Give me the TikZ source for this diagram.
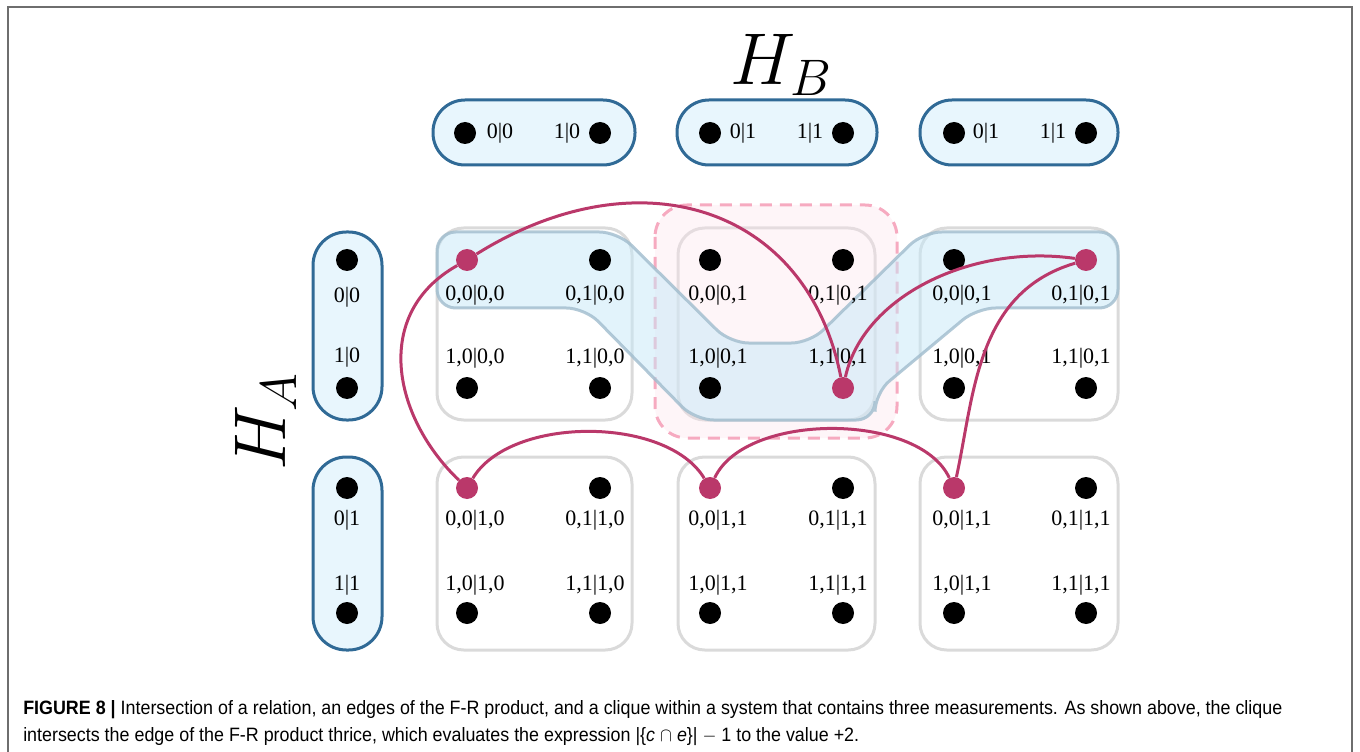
\RequirePackage{fix-cm}
\documentclass[tikz,border=0pt]{standalone}
\usepackage{fontspec}
\setmainfont{Liberation Serif}
\newfontfamily\capfont{Liberation Sans}

\begin{document}
\begin{tikzpicture}[x=0.75pt,y=0.75pt,yscale=-1,xscale=1,
  dot/.style={circle,fill=black,inner sep=0pt,minimum size=16.5pt},
  hdot/.style={circle,fill={rgb,255:red,186;green,56;blue,106},inner sep=0pt,minimum size=16.5pt},
  lbl/.style={font=\fontsize{16.5}{18}\selectfont,inner sep=0pt},
  blk/.style={draw={rgb,255:red,218;green,218;blue,218},line width=2.25pt,rounded corners=20pt},
  oval/.style={draw={rgb,255:red,48;green,106;blue,150},fill={rgb,255:red,232;green,246;blue,253},line width=2.25pt},
  hedge/.style={draw={rgb,255:red,186;green,56;blue,106},line width=2.25pt},
  band/.style={fill={rgb,255:red,198;green,232;blue,248},fill opacity=0.5,draw={rgb,255:red,160;green,188;blue,205},draw opacity=0.8,line width=2.25pt,rounded corners=14pt},
  clique/.style={draw={rgb,255:red,246;green,170;blue,192},fill={rgb,255:red,252;green,226;blue,235},fill opacity=0.35,dash pattern=on 9pt off 6pt,line width=2.25pt,rounded corners=24pt},
  capt/.style={anchor=base west,inner sep=0pt,font=\capfont\fontsize{14.5}{17}\selectfont}]
\useasboundingbox (0,0) rectangle (1360,752);

%Frame
\draw [color={rgb,255:red,110;green,110;blue,110},line width=1.5pt] (8,752) -- (8,7) -- (1352,7) -- (1352,752);

%Gray blocks
\draw [blk] (437,228) rectangle (632,420);
\draw [blk] (678,228) rectangle (875,420);
\draw [blk] (920,228) rectangle (1118,420);
\draw [blk] (437,457) rectangle (632,650);
\draw [blk] (678,457) rectangle (875,650);
\draw [blk] (920,457) rectangle (1118,650);

%Clique
\draw [clique] (655,205) rectangle (897,438);

%Edge of the F-R product
\draw [band] (437,232) -- (618,232) -- (730,343) -- (810,343) -- (923,232) -- (1118,232) -- (1118,308) -- (977,308) -- (875,393) -- (875,420) -- (695,420) -- (585,308) -- (437,308) -- cycle;

%H_B ovals
\draw [oval,rounded corners=24pt] (433,100) rectangle (635,165);
\draw [oval,rounded corners=24pt] (677,100) rectangle (877,165);
\draw [oval,rounded corners=24pt] (920,100) rectangle (1118,165);
%H_A ovals
\draw [oval,rounded corners=25pt] (313,232) rectangle (382,420);
\draw [oval,rounded corners=25pt] (313,457) rectangle (382,650);

%Titles
\node [anchor=base,inner sep=0pt,font=\fontsize{55}{60}\selectfont] (hb) at (781,85) {$H_B$};
\node [anchor=base,inner sep=0pt,rotate=90,font=\fontsize{55}{60}\selectfont] (ha) at (285,422) {$H_A$};

%H_B dots and labels
\node [dot] (b1) at (465,133) {};
\node [dot] (b2) at (600,133) {};
\node [dot] (b3) at (710,133) {};
\node [dot] (b4) at (843,133) {};
\node [dot] (b5) at (954,133) {};
\node [dot] (b6) at (1086,133) {};
\node [lbl] (bl1) at (500,133) {0|0};
\node [lbl] (bl2) at (567,133) {1|0};
\node [lbl] (bl3) at (743,133) {0|1};
\node [lbl] (bl4) at (810,133) {1|1};
\node [lbl] (bl5) at (986,133) {0|1};
\node [lbl] (bl6) at (1053,133) {1|1};

%H_A dots and labels
\node [dot] (a1) at (347,260) {};
\node [dot] (a2) at (347,388) {};
\node [dot] (a3) at (347,488) {};
\node [dot] (a4) at (347,613) {};
\node [lbl] (al1) at (347,297) {0|0};
\node [lbl] (al2) at (347,357) {1|0};
\node [lbl] (al3) at (347,520) {0|1};
\node [lbl] (al4) at (347,585) {1|1};

%Product dots, row 1
\node [hdot] (d11) at (467,260) {};
\node [dot] (d12) at (600,260) {};
\node [dot] (d13) at (710,260) {};
\node [dot] (d14) at (843,260) {};
\node [dot] (d15) at (954,260) {};
\node [hdot] (d16) at (1086,260) {};
%row 2
\node [dot] (d21) at (467,388) {};
\node [dot] (d22) at (600,388) {};
\node [dot] (d23) at (710,388) {};
\node [hdot] (d24) at (843,388) {};
\node [dot] (d25) at (954,388) {};
\node [dot] (d26) at (1086,388) {};
%row 3
\node [hdot] (d31) at (467,488) {};
\node [dot] (d32) at (600,488) {};
\node [hdot] (d33) at (710,488) {};
\node [dot] (d34) at (843,488) {};
\node [hdot] (d35) at (954,488) {};
\node [dot] (d36) at (1086,488) {};
%row 4
\node [dot] (d41) at (467,613) {};
\node [dot] (d42) at (600,613) {};
\node [dot] (d43) at (710,613) {};
\node [dot] (d44) at (843,613) {};
\node [dot] (d45) at (954,613) {};
\node [dot] (d46) at (1086,613) {};

%Product labels
\node [lbl] (l11) at (475,295) {0,0|0,0};
\node [lbl] (l12) at (595,295) {0,1|0,0};
\node [lbl] (l13) at (718,295) {0,0|0,1};
\node [lbl] (l14) at (838,295) {0,1|0,1};
\node [lbl] (l15) at (962,295) {0,0|0,1};
\node [lbl] (l16) at (1081,295) {0,1|0,1};
\node [lbl] (l21) at (475,358) {1,0|0,0};
\node [lbl] (l22) at (595,358) {1,1|0,0};
\node [lbl] (l23) at (718,358) {1,0|0,1};
\node [lbl] (l24) at (838,358) {1,1|0,1};
\node [lbl] (l25) at (962,358) {1,0|0,1};
\node [lbl] (l26) at (1081,358) {1,1|0,1};
\node [lbl] (l31) at (475,520) {0,0|1,0};
\node [lbl] (l32) at (595,520) {0,1|1,0};
\node [lbl] (l33) at (718,520) {0,0|1,1};
\node [lbl] (l34) at (838,520) {0,1|1,1};
\node [lbl] (l35) at (962,520) {0,0|1,1};
\node [lbl] (l36) at (1081,520) {0,1|1,1};
\node [lbl] (l41) at (475,585) {1,0|1,0};
\node [lbl] (l42) at (595,585) {1,1|1,0};
\node [lbl] (l43) at (718,585) {1,0|1,1};
\node [lbl] (l44) at (838,585) {1,1|1,1};
\node [lbl] (l45) at (962,585) {1,0|1,1};
\node [lbl] (l46) at (1081,585) {1,1|1,1};

%Relation (angles flipped by yscale=-1)
\draw [hedge] (d11) to[out=-35,in=-100,looseness=1.3] (d24);
\draw [hedge] (d24) to[out=-80,in=-170] (d16);
\draw [hedge] (d16) to[out=-200,in=-80] (d35);
\draw [hedge] (d35) to[out=-110,in=-70] (d33);
\draw [hedge] (d33) to[out=-115,in=-65] (d31);
\draw [hedge] (d31) to[out=-130,in=-215,looseness=1.1] (d11);

%Caption
\node [capt] (cap1) at (23,714) {\scalebox{0.925}[1]{\textbf{FIGURE 8 |} Intersection of a relation, an edges of the F-R product, and a clique within a system that contains three measurements. As shown above, the clique}};
\node [capt] (cap2) at (23,741) {\scalebox{0.925}[1]{intersects the edge of the F-R product thrice, which evaluates the expression |\{\textit{c} $\cap$ \textit{e}\}| $-$ 1 to the value +2.}};

\end{tikzpicture}
\end{document}
